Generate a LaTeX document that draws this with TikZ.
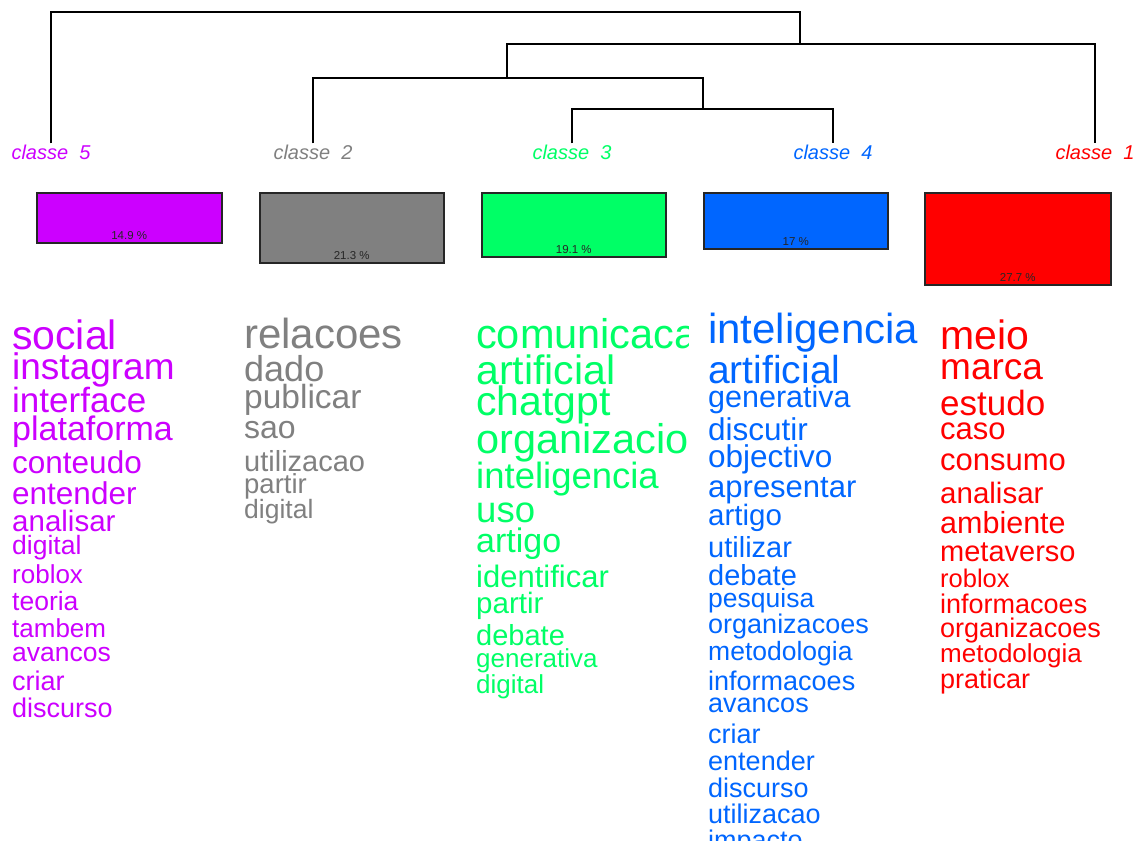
\documentclass[tikz,border=0pt]{standalone}
\usepackage{fontspec}
\setmainfont{Liberation Sans}
\usetikzlibrary{positioning}
\definecolor{cl1}{HTML}{FF0000}
\definecolor{cl2}{HTML}{808080}
\definecolor{cl3}{HTML}{00FF66}
\definecolor{cl4}{HTML}{0066FF}
\definecolor{cl5}{HTML}{CC00FF}
\newcommand{\wsz}[1]{\fontsize{#1}{#1}\selectfont}
\tikzset{leaf/.style={font=\wsz{20}\itshape, inner sep=1pt, anchor=base}}
\tikzset{classbox/.style={draw=black!85, line width=1.5pt, anchor=north west, inner sep=0pt}}
\tikzset{pct/.style={font=\wsz{11.5}, text=black!85, anchor=base, inner sep=0pt}}
\tikzset{word/.style={anchor=base west, inner sep=0pt}}

\begin{document}
\begin{tikzpicture}[x=1pt, y=-1pt]
  \useasboundingbox (0,0) rectangle (1134,840);
  \clip (0,0) rectangle (1134,840);

  % leaves of the tree
  \node[leaf, text=cl5] (c5) at (51,159)   {classe\ \ 5};
  \node[leaf, text=cl2] (c2) at (313,159)  {classe\ \ 2};
  \node[leaf, text=cl3] (c3) at (572,159)  {classe\ \ 3};
  \node[leaf, text=cl4] (c4) at (833,159)  {classe\ \ 4};
  \node[leaf, text=cl1] (c1) at (1095,159) {classe\ \ 1};

  \coordinate (m34)   at (703,109);
  \coordinate (m234)  at (507,78);
  \coordinate (m1234) at (800,44);
  \coordinate (root)  at (425,12);

  \draw[line width=1.3pt] (c3.north) |- (m34) -| (c4.north);
  \draw[line width=1.3pt] (c2.north) |- (m234) -| (m34);
  \draw[line width=1.3pt] (m234) |- (m1234) -| (c1.north);
  \draw[line width=1.3pt] (c5.north) |- (root) -| (m1234);

  % class sizes
  \node[classbox, fill=cl5, minimum width=185pt, minimum height=50pt] (b5) at (36,192) {};
  \node[classbox, fill=cl2, minimum width=184pt, minimum height=70pt] (b2) at (259,192) {};
  \node[classbox, fill=cl3, minimum width=184pt, minimum height=64pt] (b3) at (481,192) {};
  \node[classbox, fill=cl4, minimum width=184pt, minimum height=56pt] (b4) at (703,192) {};
  \node[classbox, fill=cl1, minimum width=186pt, minimum height=92pt] (b1) at (924,192) {};
  \node[pct] (p5) at ([yshift=4pt]b5.south) {14.9 \%};
  \node[pct] (p2) at ([yshift=4pt]b2.south) {21.3 \%};
  \node[pct] (p3) at ([yshift=4pt]b3.south) {19.1 \%};
  \node[pct] (p4) at ([yshift=4pt]b4.south) {17 \%};
  \node[pct] (p1) at ([yshift=4pt]b1.south) {27.7 \%};

  % words, size/baseline/text
  \foreach \s/\b/\t [count=\i] in {41/349/social, 37/379/instagram, 35/412/interface,
      34/440/plataforma, 31.5/473/conteudo, 31.5/504/entender, 29.5/531/analisar,
      26.5/554/digital, 26/583/roblox, 26.5/610/teoria, 26/637/tambem,
      26.5/661/avancos, 27/690/criar, 27/717/discurso}
    \node[word, text=cl5, font=\wsz{\s}] (w5-\i) at (12,\b) {\t};

  \foreach \s/\b/\t [count=\i] in {42/348/relacoes, 36/381/dado, 33.5/408/publicar,
      32/438/sao, 29/471/utilizacao, 27.5/493/partir, 26.5/518/digital}
    \node[word, text=cl2, font=\wsz{\s}] (w2-\i) at (244,\b) {\t};

  \begin{scope}
    \clip (470,300) rectangle (688,720);
    \foreach \s/\b/\t [count=\i] in {41.5/348/comunicacao, 41/384/artificial,
        41/415/chatgpt, 41.5/453/organizacional, 36.5/488/inteligencia, 36.5/522/uso,
        34/552/artigo, 31/587/identificar, 29.5/613/partir, 29/645/debate,
        26/667/generativa, 26/693/digital}
      \node[word, text=cl3, font=\wsz{\s}] (w3-\i) at (476,\b) {\t};
  \end{scope}

  \foreach \s/\b/\t [count=\i] in {42/343/inteligencia, 39/383/artificial,
      30.5/407/generativa, 31.5/440/discutir, 31.5/467/objectivo, 31/497/apresentar,
      29.5/525/artigo, 29/557/utilizar, 29/585/debate, 26.5/607/pesquisa,
      27/633/organizacoes, 26.5/660/metodologia, 27/690/informacoes, 27/712/avancos,
      27/743/criar, 27/770/entender, 27/797/discurso, 27/823/utilizacao, 27/849/impacto}
    \node[word, text=cl4, font=\wsz{\s}] (w4-\i) at (708,\b) {\t};

  \foreach \s/\b/\t [count=\i] in {41/349/meio, 37/379/marca, 35/415/estudo,
      31/439/caso, 31/470/consumo, 29.5/503/analisar, 30.5/533/ambiente,
      29/561/metaverso, 25.5/587/roblox, 27/613/informacoes, 27/637/organizacoes,
      26/662/metodologia, 27/688/praticar}
    \node[word, text=cl1, font=\wsz{\s}] (w1-\i) at (940,\b) {\t};
\end{tikzpicture}
\end{document}
